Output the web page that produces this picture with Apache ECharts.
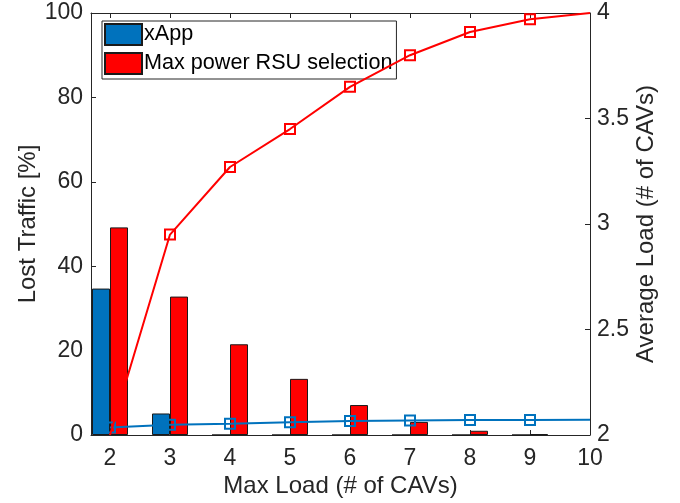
<!DOCTYPE html>
<html><head><meta charset="utf-8">
<script src="https://cdn.jsdelivr.net/npm/echarts@6/dist/echarts.min.js"></script>
<style>html,body{margin:0;padding:0;background:#fff}#c{width:680px;height:503px}</style>
</head><body><div id="c"></div>
<script>
const xTicks = [2, 3, 4, 5, 6, 7, 8, 9, 10];
const barX = [2, 3, 4, 5, 6, 7, 8, 9];
const xappLost = [34.7, 5.1, 0, 0, 0, 0, 0, 0];
const maxPowerLost = [49.2, 32.8, 21.5, 13.3, 7.1, 3.1, 1.0, 0.2];
const lineX = [2, 3, 4, 5, 6, 7, 8, 9, 10];
const xappLoad = [2.036, 2.048, 2.053, 2.061, 2.066, 2.069, 2.071, 2.071, 2.072];
const maxPowerLoad = [2.0, 2.95, 3.27, 3.45, 3.65, 3.80, 3.91, 3.97, 4.0];
const leftTicks = [0, 20, 40, 60, 80, 100];
const rightTicks = [2, 2.5, 3, 3.5, 4];

const FONT = 'Liberation Sans';
const TXT = '#262626';
const BLUE = '#0072BD';
const RED = '#FF0000';

function lineData(ys, hideFirst) {
  return lineX.map((x, i) => {
    if (i === lineX.length - 1 || (hideFirst && i === 0)) return { value: [x, ys[i]], symbol: 'none' };
    return [x, ys[i]];
  });
}

const chart = echarts.init(document.getElementById('c'), null, { renderer: 'canvas' });
chart.setOption({
  animation: false,
  backgroundColor: '#fff',
  textStyle: { fontFamily: FONT, color: TXT },
  grid: { left: 91, right: 90, top: 13, bottom: 65, containLabel: false },
  legend: {
    left: 102, top: 21, orient: 'vertical',
    data: ['xApp', 'Max power RSU selection'],
    itemWidth: 37, itemHeight: 21, itemGap: 6,
    padding: [2, 4, 4, 2],
    backgroundColor: '#fff', borderColor: TXT, borderWidth: 1, borderRadius: 0,
    textStyle: { fontFamily: FONT, fontSize: 21.6, color: '#000', padding: [0, 0, 0, -3] },
    icon: 'rect'
  },
  xAxis: [{
    type: 'value', min: 1.6833, max: 10, position: 'bottom',
    name: 'Max Load (# of CAVs)', nameLocation: 'middle', nameGap: 39, nameMoveOverlap: false,
    nameTextStyle: { fontFamily: FONT, fontSize: 24, color: TXT },
    axisLine: { show: true, lineStyle: { color: TXT, width: 1 } },
    axisTick: { show: true, inside: true, length: 5, customValues: xTicks, lineStyle: { color: TXT } },
    axisLabel: { customValues: xTicks, fontFamily: FONT, fontSize: 23, color: TXT, margin: 12 },
    splitLine: { show: false }
  }, {
    type: 'value', min: 1.6833, max: 10, position: 'top',
    axisLine: { show: true, lineStyle: { color: TXT, width: 1 } },
    axisTick: { show: true, inside: true, length: 5, customValues: xTicks, lineStyle: { color: TXT } },
    axisLabel: { show: false },
    splitLine: { show: false }
  }],
  yAxis: [{
    type: 'value', min: 0, max: 100, interval: 20, position: 'left',
    name: 'Lost Traffic [%]', nameLocation: 'middle', nameGap: 51, nameRotate: 90, nameMoveOverlap: false,
    nameTextStyle: { fontFamily: FONT, fontSize: 24, color: TXT },
    axisLine: { show: true, lineStyle: { color: TXT, width: 1 } },
    axisTick: { show: true, inside: true, length: 5, lineStyle: { color: TXT } },
    axisLabel: { fontFamily: FONT, fontSize: 23, color: TXT, margin: 8, customValues: leftTicks },
    splitLine: { show: false }
  }, {
    type: 'value', min: 2, max: 4, interval: 0.5, position: 'right',
    name: 'Average Load (# of CAVs)', nameLocation: 'middle', nameGap: 44, nameRotate: 90, nameMoveOverlap: false,
    nameTextStyle: { fontFamily: FONT, fontSize: 24, color: TXT },
    axisLine: { show: true, lineStyle: { color: TXT, width: 1 } },
    axisTick: { show: true, inside: true, length: 5, lineStyle: { color: TXT } },
    axisLabel: { fontFamily: FONT, fontSize: 23, color: TXT, margin: 7, customValues: rightTicks },
    splitLine: { show: false }
  }],
  series: [{
    name: 'xApp', type: 'bar', xAxisIndex: 0, yAxisIndex: 0,
    data: barX.map((x, i) => [x, xappLost[i]]),
    barWidth: 18, barGap: '0%', z: 2,
    itemStyle: { color: BLUE, borderColor: '#1a1a1a', borderWidth: 1 }
  }, {
    name: 'Max power RSU selection', type: 'bar', xAxisIndex: 0, yAxisIndex: 0,
    data: barX.map((x, i) => [x, maxPowerLost[i]]),
    barWidth: 18, barGap: '0%', z: 2,
    itemStyle: { color: RED, borderColor: '#1a1a1a', borderWidth: 1 }
  }, {
    name: 'xApp load', type: 'line', xAxisIndex: 0, yAxisIndex: 1,
    data: lineData(xappLoad, false), z: 3,
    symbol: 'rect', symbolSize: 10, showAllSymbol: true,
    lineStyle: { color: BLUE, width: 2 },
    itemStyle: { color: 'rgba(0,0,0,0)', borderColor: BLUE, borderWidth: 2 }
  }, {
    name: 'Max power load', type: 'line', xAxisIndex: 0, yAxisIndex: 1,
    data: lineData(maxPowerLoad, true), z: 4,
    symbol: 'rect', symbolSize: 10, showAllSymbol: true,
    lineStyle: { color: RED, width: 2 },
    itemStyle: { color: 'rgba(0,0,0,0)', borderColor: RED, borderWidth: 2 }
  }]
});
</script></body></html>
